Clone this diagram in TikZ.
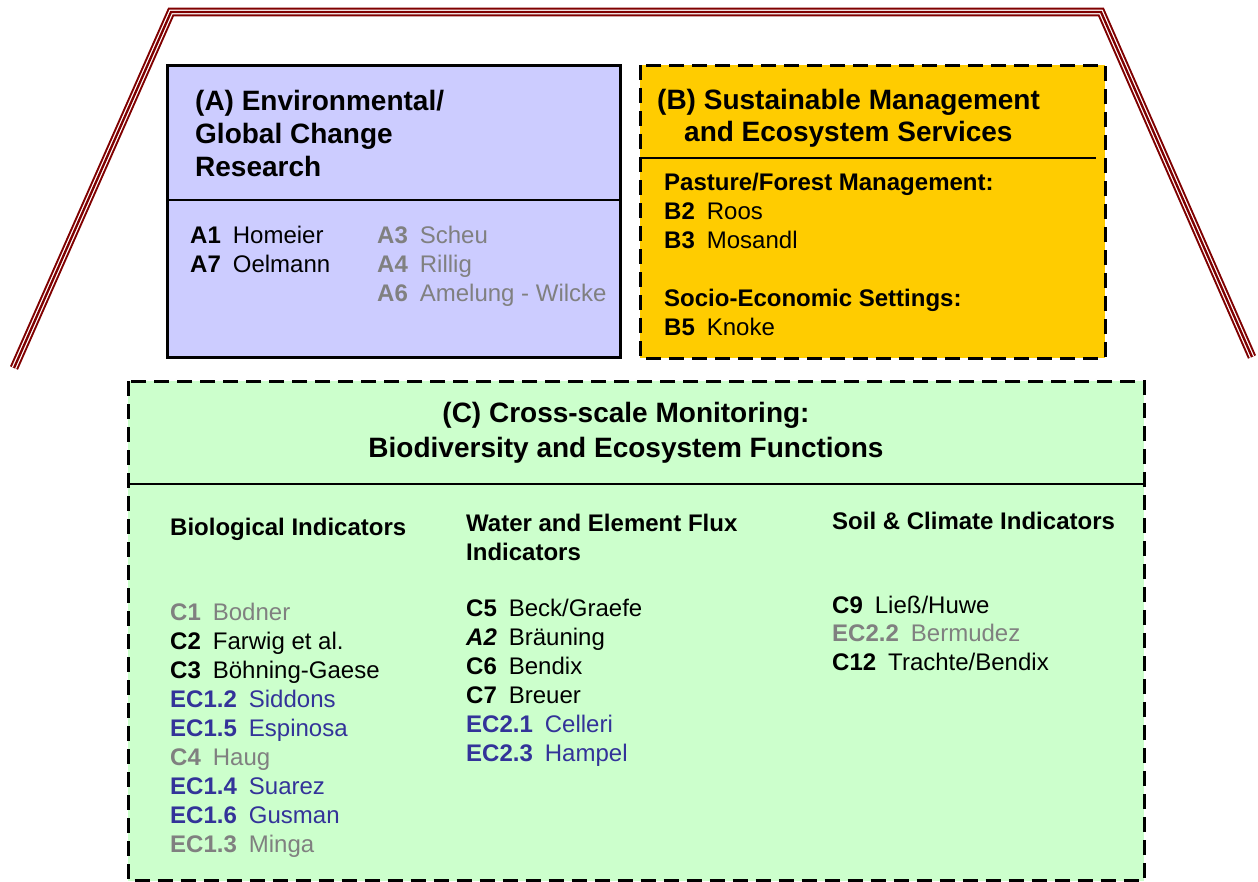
\documentclass[tikz,border=0pt]{standalone}
\usepackage{fontspec}
\setmainfont{Liberation Sans}
\usepackage{tikz}
\usetikzlibrary{positioning}

\definecolor{roofred}{RGB}{128,0,0}
\definecolor{fillA}{RGB}{204,204,255}
\definecolor{fillB}{RGB}{255,204,0}
\definecolor{fillC}{RGB}{204,255,204}
\definecolor{inactive}{RGB}{128,128,128}
\definecolor{ecblue}{RGB}{51,51,153}

\newcommand{\proj}[2]{\textbf{#1}\hspace{0.5em}#2}

\begin{document}
\begin{tikzpicture}[x=1pt,y=-1pt,
    title/.style={font=\fontsize{28}{33}\selectfont\bfseries, inner sep=0pt, anchor=north west, align=left},
    head/.style={font=\fontsize{24}{29}\selectfont\bfseries, inner sep=0pt, anchor=north west, align=left},
    items/.style={font=\fontsize{24}{29}\selectfont, inner sep=0pt, anchor=north west, align=left},
    roof/.style={draw=roofred, line width=2pt, double=white, double distance=4.7pt, line join=miter},
    dashbox/.style={draw=black, line width=3pt, dash pattern=on 15pt off 8pt},
    rule/.style={draw=black, line width=2pt}]
  \useasboundingbox (0,0) rectangle (1258,881);

  % roof
  \coordinate (eaveL)  at (14,368);
  \coordinate (ridgeL) at (171,12);
  \coordinate (ridgeR) at (1101,12);
  \coordinate (eaveR)  at (1252,357);
  \draw[roof] (eaveL) -- (ridgeL) -- (ridgeR) -- (eaveR);
  \draw[roofred, line width=2.3pt, line join=miter] (eaveL) -- (ridgeL) -- (ridgeR) -- (eaveR);

  % (A)
  \draw[fill=fillA, line width=3pt] (167.5,65.5) rectangle (620.5,357.5);
  \draw[rule] (167.5,200) -- (620.5,200);
  \node[title] (titleA) at (195,90) {(A) Environmental/\\Global Change\\Research};
  \node[items] (listA) at (190,225.5) {\proj{A1}{Homeier}\\\proj{A7}{Oelmann}};
  \node[items, text=inactive] (listAgrey) at (377,225.5)
    {\proj{A3}{Scheu}\\\proj{A4}{Rillig}\\\proj{A6}{Amelung - Wilcke}};

  % (B)
  \fill[fillB] (640,65) rectangle (1105,358);
  \draw[dashbox] (640,65) rectangle (1105,358);
  \draw[rule] (640,158) -- (1096,158);
  \node[title, font=\fontsize{28}{32}\selectfont\bfseries] (titleB) at (657,89)
    {(B) Sustainable Management\\\hspace*{27pt}and Ecosystem Services};
  \node[items] (listB) at (664,173.4)
    {\textbf{Pasture/Forest Management:}\\\proj{B2}{Roos}\\\proj{B3}{Mosandl}\\[29pt]
     \textbf{Socio-Economic Settings:}\\\proj{B5}{Knoke}};

  % (C)
  \fill[fillC] (128,381) rectangle (1144,880.5);
  \draw[dashbox] (128,381) rectangle (1144,880.5);
  \draw[rule] (128,484) -- (1144,484);
  \node[title, align=center, anchor=north, font=\fontsize{28}{35}\selectfont\bfseries] (titleC) at (626,402)
    {(C) Cross-scale Monitoring:\\Biodiversity and Ecosystem Functions};

  \node[head] (headBio)   at (170,518.4) {Biological Indicators};
  \node[head] (headWater) at (466,514.4) {Water and Element Flux\\Indicators};
  \node[head] (headSoil)  at (832,512.4) {Soil \& Climate Indicators};

  \node[items] (listBio) at (170,602.4)
    {\textcolor{inactive}{\proj{C1}{Bodner}}\\
     \proj{C2}{Farwig et al.}\\
     \proj{C3}{Böhning-Gaese}\\
     \textcolor{ecblue}{\proj{EC1.2}{Siddons}}\\
     \textcolor{ecblue}{\proj{EC1.5}{Espinosa}}\\
     \textcolor{inactive}{\proj{C4}{Haug}}\\
     \textcolor{ecblue}{\proj{EC1.4}{Suarez}}\\
     \textcolor{ecblue}{\proj{EC1.6}{Gusman}}\\
     \textcolor{inactive}{\proj{EC1.3}{Minga}}};
  \node[items] (listWater) at (466,598.4)
    {\proj{C5}{Beck/Graefe}\\
     {\bfseries\itshape A2}\hspace{0.5em}Bräuning\\
     \proj{C6}{Bendix}\\
     \proj{C7}{Breuer}\\
     \textcolor{ecblue}{\proj{EC2.1}{Celleri}}\\
     \textcolor{ecblue}{\proj{EC2.3}{Hampel}}};
  \node[items] (listSoil) at (832,595.4)
    {\proj{C9}{Ließ/Huwe}\\
     \textcolor{inactive}{\proj{EC2.2}{Bermudez}}\\
     \proj{C12}{Trachte/Bendix}};
\end{tikzpicture}
\end{document}
